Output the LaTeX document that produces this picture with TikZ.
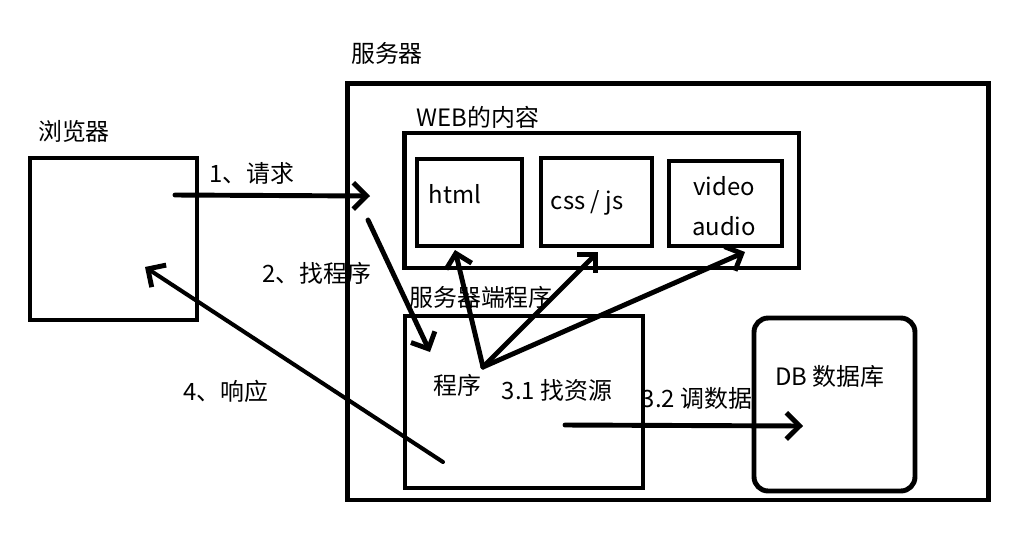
\documentclass[tikz,border=0pt]{standalone}
\usepackage{fontspec}
\setmainfont{Noto Sans CJK SC}
\usetikzlibrary{arrows.meta}

\tikzset{
  box/.style = {draw, line width=2.8pt, inner sep=0pt, outer sep=0pt},
  txt/.style = {font=\fontsize{13.6}{16}\selectfont, inner sep=0pt},
  link/.style = {line width=2.8pt, line cap=round, -{Straight Barb[length=7.5pt, width=15pt, line width=2.8pt]}},
}

\begin{document}
\begin{tikzpicture}[x=0.02cm, y=-0.02cm]
	\useasboundingbox (0,0) rectangle (1018,535);
	% boxes
	\node[box, minimum width=3.34cm, minimum height=3.24cm] (browser) at (113.5,239) {};
	\node[box, minimum width=12.84cm, minimum height=8.34cm] (server) at (668,291.5) {};
	\node[box, minimum width=7.9cm, minimum height=2.7cm] (web) at (601.5,200.5) {};
	\node[box, minimum width=2.1cm, minimum height=1.74cm] (html) at (469.5,202.5) {};
	\node[box, minimum width=2.22cm, minimum height=1.76cm] (css) at (596.5,202) {};
	\node[box, minimum width=2.26cm, minimum height=1.7cm] (media) at (725.5,203.5) {};
	\node[box, minimum width=4.76cm, minimum height=3.44cm] (prog) at (524,402) {};
	\node[box, rounded corners=8pt, minimum width=3.22cm, minimum height=3.46cm] (db) at (834.5,404.5) {};
%
	\node[txt] (browserlbl) at (74,131) {浏览器};
	\node[txt] (serverlbl) at (387,53) {服务器};
	\node[txt] (weblbl) at (478,117) {WEB的内容};
	\node[txt] (proglbl) at (481,297) {服务器端程序};
	\node[txt] (htmllbl) at (455,194) {html};
	\node[txt] (csslbl) at (587,203) {css / js};
	\node[txt] (videolbl) at (724,186) {video};
	\node[txt] (audiolbl) at (724,226) {audio};
	\node[txt] (progtxt) at (457,385) {程序};
	\node[txt] (dblbl) at (830,376) {DB 数据库};
	% step labels
	\node[txt] (req) at (252,173) {1、请求};
	\node[txt] (find) at (317,273) {2、找程序};
	\node[txt] (res) at (557,390) {3.1 找资源};
	\node[txt] (data) at (697,398) {3.2 调数据};
	\node[txt] (resp) at (226,391) {4、响应};
	% arrow ends
	\coordinate (a1s) at (175,195);
	\coordinate (a1e) at (370,196);
	\coordinate (a2s) at (368,220);
	\coordinate (a2e) at (430,352);
	\coordinate (hub) at (483,367);
	\coordinate (toHtml) at (455,250);
	\coordinate (toCss) at (598,252);
	\coordinate (toMedia) at (745,252);
	\coordinate (a32s) at (565,425);
	\coordinate (a32e) at (803,426);
	\coordinate (a4s) at (443,462);
	\coordinate (a4e) at (145,267);
%
	\draw[link] (a1s) -- (a1e);
	\draw[link] (a2s) -- (a2e);
	\draw[link] (hub) -- (toHtml);
	\draw[link] (hub) -- (toCss);
	\draw[link] (hub) -- (toMedia);
	\draw[link] (a32s) -- (a32e);
	\draw[link, line width=2.3pt] (a4s) -- (a4e);
\end{tikzpicture}
\end{document}
